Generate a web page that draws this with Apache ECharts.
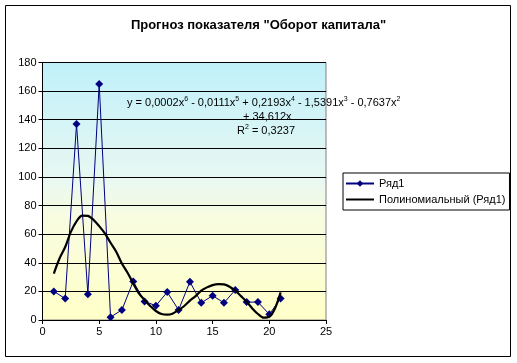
<!DOCTYPE html>
<html><head><meta charset="utf-8">
<script src="https://cdn.jsdelivr.net/npm/echarts@6/dist/echarts.min.js"></script>
<style>html,body{margin:0;padding:0;background:#fff}#c{width:517px;height:363px}</style>
</head><body><div id="c"></div>
<script>
var titleText = 'Прогноз показателя "Оборот капитала"';
var seriesName = 'Ряд1';
var trendName = 'Полиномиальный (Ряд1)';
var xValues = [1,2,3,4,5,6,7,8,9,10,11,12,13,14,15,16,17,18,19,20,21];
var yValues = [20,15,137,18,165,2,7,27,13,10,19.5,7,26.7,12,17,12,21,12.5,12.5,4,15];
var trendX = [1,1.5,2,2.5,3,3.5,4,4.5,5,5.5,6,6.5,7,7.5,8,8.5,9,9.5,10,10.5,11,11.5,12,12.5,13,13.5,14,14.5,15,15.5,16,16.5,17,17.5,18,18.5,19,19.5,20,20.5,21];
var trendY = [32.5,43,51,61.6,69,73,72.8,70,65.6,60.5,54,47.7,39.5,33,25.6,18.6,14,9.8,6.3,4.2,3.7,4.6,7,9.8,13.5,16.7,20.5,22.8,24.4,25.1,24.9,23.3,20.5,16.7,12.8,8.1,4.2,1.6,2.3,8.1,19.3];
var yTicks = {min:0, max:180, interval:20};
var xTicks = {min:0, max:25, interval:5};
var eqLine1 = 'y = 0,0002x{s|6} - 0,0111x{s|5} + 0,2193x{s|4} - 1,5391x{s|3} - 0,7637x{s|2}';
var eqLine2 = '+ 34,612x';
var eqLine3 = 'R{s|2} = 0,3237';

var font = 'Arial, "Liberation Sans", sans-serif';
var chart = echarts.init(document.getElementById('c'), null, {renderer:'canvas'});
var rich = {s:{fontSize:7, verticalAlign:'top', fontFamily:font, color:'#000', lineHeight:14}};
chart.setOption({
  animation:false,
  backgroundColor:'#fff',
  title:{text:titleText, left:'center', top:14, textStyle:{fontFamily:font, fontSize:13, fontWeight:'bold', color:'#000'}},
  grid:{left:42.5, right:191, top:62.5, bottom:43, show:true,
    backgroundColor:{type:'linear', x:0, y:0, x2:0, y2:1, colorStops:[
      {offset:0, color:'#c0f0fa'},{offset:0.45, color:'#e8f8f2'},{offset:0.6, color:'#f8fce0'},{offset:1, color:'#ffffc8'}]},
    borderColor:'#808080', borderWidth:1},
  legend:{orient:'vertical', left:343, top:173, padding:[5,4,5,2], itemGap:5, itemWidth:28, itemHeight:8,
    borderColor:'#000', borderWidth:1, backgroundColor:'#fff',
    textStyle:{fontFamily:font, fontSize:11, color:'#000'},
    data:[seriesName, {name:trendName, itemStyle:{opacity:0}}]},
  xAxis:{type:'value', min:xTicks.min, max:xTicks.max, interval:xTicks.interval,
    axisLine:{lineStyle:{color:'#000', width:1}}, axisTick:{show:true, inside:false, length:4, lineStyle:{color:'#000'}},
    axisLabel:{fontFamily:font, fontSize:11, color:'#000', margin:6}, splitLine:{show:false}},
  yAxis:{type:'value', min:yTicks.min, max:yTicks.max, interval:yTicks.interval,
    axisLine:{show:true, lineStyle:{color:'#000', width:1}}, axisTick:{show:true, inside:false, length:4, lineStyle:{color:'#000'}},
    axisLabel:{fontFamily:font, fontSize:11, color:'#000', margin:6},
    splitLine:{show:true, lineStyle:{color:'#000', width:1}}},
  series:[
    {name:seriesName, type:'line', data:xValues.map(function(x,i){return [x,yValues[i]];}),
      symbol:'diamond', symbolSize:8, lineStyle:{color:'#000080', width:1}, itemStyle:{color:'#000080'}, z:2},
    {name:trendName, type:'line', data:trendX.map(function(x,i){return [x,trendY[i]];}),
      symbol:'none', smooth:0.3, lineStyle:{color:'#000', width:2.2}, itemStyle:{color:'#000'}, z:3}
  ],
  graphic:[
    {type:'rect', shape:{x:5.5, y:5.5, width:505, height:351}, style:{fill:null, stroke:'#000', lineWidth:1}, silent:true, z:100},
    {type:'text', left:127, top:96, style:{text:eqLine1, rich:rich, fontFamily:font, fontSize:11, fill:'#000', lineHeight:14}, z:50},
    {type:'text', left:243, top:110, style:{text:eqLine2, rich:rich, fontFamily:font, fontSize:11, fill:'#000', lineHeight:14}, z:50},
    {type:'text', left:237, top:124, style:{text:eqLine3, rich:rich, fontFamily:font, fontSize:11, fill:'#000', lineHeight:14}, z:50}
  ]
});
</script></body></html>
